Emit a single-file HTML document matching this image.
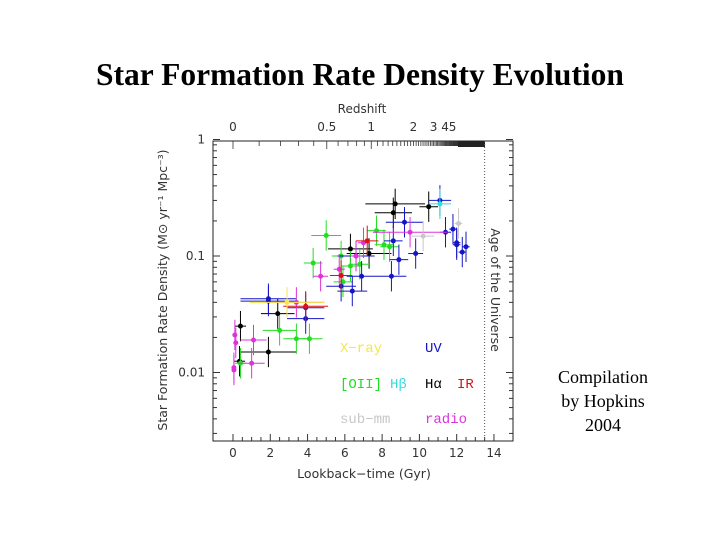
<!DOCTYPE html>
<html><head><meta charset="utf-8"><style>
body{margin:0;background:#fff;width:720px;height:540px;overflow:hidden}
svg text{font-family:"DejaVu Sans","Liberation Sans",sans-serif}
</style></head><body>
<svg width="720" height="540" id="c">
<text x="360" y="85" text-anchor="middle" style="font-family:'Liberation Serif',serif;font-weight:bold;font-size:31.5px">Star Formation Rate Density Evolution</text>
<g style="font-family:'Liberation Serif',serif;font-size:18px" text-anchor="middle">
<text x="603" y="383" style="font-family:'Liberation Serif',serif">Compilation</text>
<text x="603" y="407" style="font-family:'Liberation Serif',serif">by Hopkins</text>
<text x="603" y="431" style="font-family:'Liberation Serif',serif">2004</text>
</g>
<g id="plot"></g>
</svg>
<script>
const tGyr=[0.4,0.35,1.9,2.4,6.3,7.3,8.6,8.7,10.5, 0.4,2.5,3.4,4.1,4.3,5.0,5.8,6.3,6.8,7.7,8.1,8.4,5.9, 1.9,1.9,3.9,3.9,5.8,6.4,6.6,6.9,8.5,8.6,8.9,9.2,9.8,11.1,11.4,11.8,12.0,12.0,12.3,12.5, 0.1,0.15,0.05,0.05,1.1,1.0,4.7,5.7,6.6,7.0,9.5,3.4, 3.9,5.8,7.2, 2.9, 11.1, 10.2,12.1];
const sfr=[0.025,0.0125,0.015,0.032,0.115,0.105,0.235,0.28,0.265, 0.012,0.023,0.0195,0.0195,0.087,0.15,0.1,0.082,0.085,0.165,0.125,0.12,0.06, 0.043,0.041,0.029,0.036,0.055,0.05,0.1,0.067,0.067,0.135,0.093,0.195,0.105,0.3,0.16,0.17,0.13,0.125,0.108,0.12, 0.021,0.018,0.011,0.0105,0.019,0.012,0.067,0.077,0.1,0.13,0.16,0.04, 0.037,0.068,0.135, 0.04, 0.28, 0.148,0.19];
const xErr=[0.3,0.3,1.5,0.9,1.2,1.2,1.0,1.6,0.5, 0.3,0.9,0.7,0.7,0.5,0.8,0.5,0.5,0.5,0.5,0.5,0.5,0.5, 1.5,1.5,1.0,1.0,0.8,0.8,1.0,0.8,0.8,0.5,0.5,1.0,0.4,0.6,0.3,0.2,0.2,0.2,0.2,0.2, 0.1,0.1,0.05,0.05,0.7,0.7,0.4,0.3,0.3,0.3,2.0,1.5, 1.2,0.6,0.6, 2.0, 0.6, 0.6,0.2];
const groups=["Ha","Ha","Ha","Ha","Ha","Ha","Ha","Ha","Ha","OII","OII","OII","OII","OII","OII","OII","OII","OII","OII","OII","OII","OII","UV","UV","UV","UV","UV","UV","UV","UV","UV","UV","UV","UV","UV","UV","UV","UV","UV","UV","UV","UV","radio","radio","radio","radio","radio","radio","radio","radio","radio","radio","radio","radio","IR","IR","IR","X","Hb","sub","sub"];
const colors={Ha:"#000",OII:"#22dd22",UV:"#1515c8",radio:"#dd33dd",IR:"#dd1111",X:"#f5e64a",Hb:"#33dddd",sub:"#c8c8c8"};
const zTicks=[0,0.5,1,2,3,4,5];
const zLabels=["0","0.5","1","2","3","4","5"];
const ns="http://www.w3.org/2000/svg";
const X0=213,X1=513,Y0=141,Y1=441;
const sx=t=>233+t*18.64;
const sy=v=>139.5-Math.log10(v)*116.5;
const tz=z=>13.5*(1-Math.pow(1+z,-1.15));
const g=document.getElementById('plot');
function el(tag,a,p){const e=document.createElementNS(ns,tag);for(const k in a)e.setAttribute(k,a[k]);(p||g).appendChild(e);return e;}
let f=el('rect',{x:X0,y:Y0,width:X1-X0,height:Y1-Y0,fill:'none',stroke:'#222','stroke-width':1});


for(let t=0;t<=14;t+=0.5){const L=t%2===0?7:4;const x=sx(t);
 el('line',{x1:x,x2:x,y1:Y1,y2:Y1-L,stroke:'#333'});
 if(t%2===0){const tx=el('text',{x:x,y:457,'font-size':12,'text-anchor':'middle',fill:'#333'});tx.textContent=t;
 
 }}
for(let d=-3;d<=0;d++)for(let m=1;m<10;m++){const v=m*Math.pow(10,d);if(v<0.0026||v>1)continue;const y=sy(v);const L=m===1?7:4;
 el('line',{x1:X0,x2:X0+L,y1:y,y2:y,stroke:'#333'});el('line',{x1:X1,x2:X1-L,y1:y,y2:y,stroke:'#333'});
 if(m===1){const tx=el('text',{x:205,y:y+4,'font-size':12,'text-anchor':'end',fill:'#333'});tx.textContent=v===1?'1':v===0.1?'0.1':'0.01';
 
 }}
for(let z=0;z<=20;z+=0.1){const x=sx(tz(z));if(x>485)break;const major=z<1.01&&Math.round(z*10)%5===0;el('line',{x1:x,x2:x,y1:Y0,y2:Y0+(major?8:5),stroke:'#333','stroke-width':0.8});}
el('rect',{x:458,y:Y0,width:27,height:6,fill:'#222'});
zTicks.forEach((z,i)=>{const tx=el('text',{x:sx(tz(z)),y:131,'font-size':12,'text-anchor':'middle',fill:'#333'});tx.textContent=zLabels[i];
 
 });
let t1=el('text',{x:362,y:113,'font-size':12,'text-anchor':'middle',fill:'#333'});t1.textContent='Redshift';


let t2=el('text',{x:364,y:478,'font-size':12.5,'text-anchor':'middle',fill:'#333'});t2.textContent='Lookback−time (Gyr)';


let t3=el('text',{x:0,y:0,'font-size':12.5,'text-anchor':'middle',fill:'#333',transform:'translate(167,290) rotate(-90)'});t3.textContent='Star Formation Rate Density (M⊙ yr⁻¹ Mpc⁻³)';


el('line',{x1:sx(13.5),x2:sx(13.5),y1:Y0,y2:Y1,stroke:'#555','stroke-dasharray':'1,2'});
let t4=el('text',{x:0,y:0,'font-size':12.5,'text-anchor':'middle',fill:'#333',transform:'translate(491,290) rotate(90)'});t4.textContent='Age of the Universe';


tGyr.forEach((t,i)=>{const c=colors[groups[i]];const x=sx(t),y=sy(sfr[i]);
 const gg=el('g',{});
 
 
 el('line',{x1:sx(t-xErr[i]),x2:sx(t+xErr[i]),y1:y,y2:y,stroke:c,'stroke-width':1},gg);
 el('line',{x1:x,x2:x,y1:sy(sfr[i]*1.35),y2:sy(sfr[i]/1.35),stroke:c,'stroke-width':1},gg);
 el('circle',{cx:x,cy:y,r:2.5,fill:c},gg);});
const leg=[["X−ray",340,352,"#f5e64a"],["UV",425,352,"#1515c8"],["[OII]",340,388,"#22dd22"],["Hβ",390,388,"#33dddd"],["Hα",425,388,"#000"],["IR",457,388,"#dd1111"],["sub−mm",340,423,"#c8c8c8"],["radio",425,423,"#dd33dd"]];
leg.forEach(l=>{const tx=el('text',{x:l[1],y:l[2],'font-size':14,fill:l[3],style:"font-family:'Liberation Mono',monospace"});tx.textContent=l[0];
 
 });
</script>
</body></html>
